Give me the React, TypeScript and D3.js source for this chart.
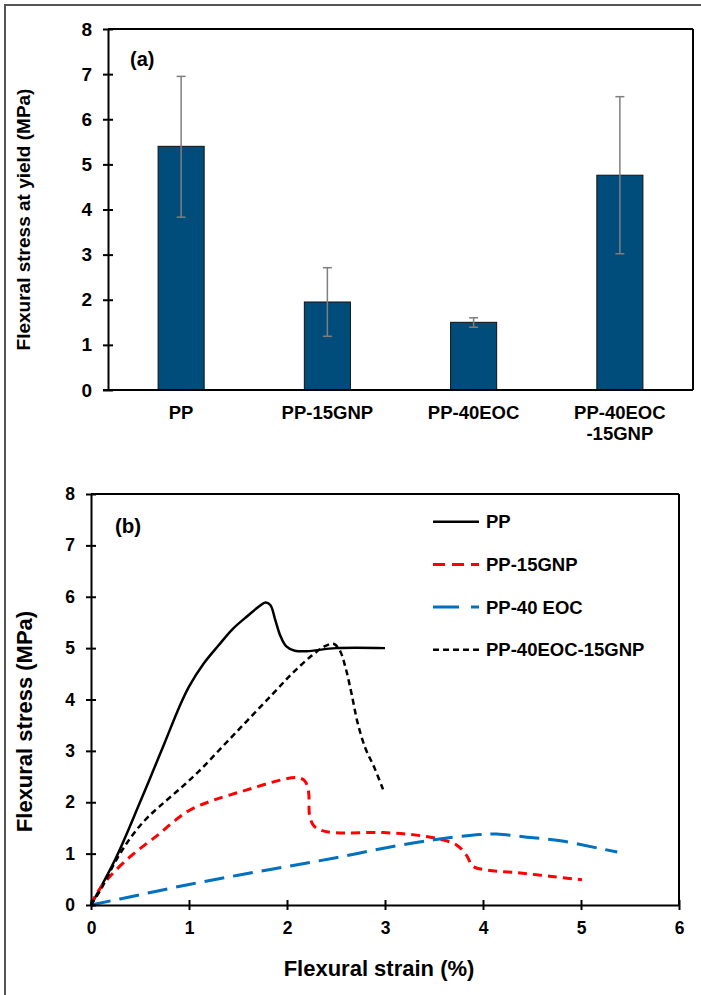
import React, { useEffect, useRef } from 'react';
import * as d3 from 'd3';

// ---- panel (a) data ----
const categories = ['PP', 'PP-15GNP', 'PP-40EOC', 'PP-40EOC-15GNP'];
const categoryLines = [['PP'], ['PP-15GNP'], ['PP-40EOC'], ['PP-40EOC', '-15GNP']];
const yieldStress = [5.4, 1.95, 1.5, 4.76];
const errLow = [3.83, 1.19, 1.39, 3.02];
const errHigh = [6.95, 2.71, 1.6, 6.5];
const yTicksA = [0, 1, 2, 3, 4, 5, 6, 7, 8];

// ---- panel (b) data: [strain %, stress MPa] ----
const ppCurve: [number, number][] = [
  [0, 0], [0.25, 0.9], [0.5, 2.0], [0.75, 3.15], [0.9, 3.85], [1.0, 4.25], [1.15, 4.7], [1.3, 5.05],
  [1.45, 5.38], [1.6, 5.63], [1.72, 5.82], [1.78, 5.89], [1.83, 5.84], [1.88, 5.55], [1.93, 5.25],
  [1.99, 5.04], [2.08, 4.95], [2.2, 4.94], [2.5, 5.0], [3.0, 5.0],
];
const gnpCurve: [number, number][] = [
  [0, 0], [0.06, 0.23], [0.19, 0.55], [0.4, 0.94], [0.57, 1.2], [0.7, 1.39], [0.84, 1.62],
  [1.01, 1.85], [1.25, 2.04], [1.59, 2.24], [1.93, 2.43], [2.1, 2.48], [2.18, 2.42], [2.22, 2.2],
  [2.23, 1.75], [2.27, 1.55], [2.34, 1.46], [2.47, 1.41], [2.98, 1.41], [3.32, 1.36], [3.56, 1.28],
  [3.73, 1.17], [3.83, 0.97], [3.9, 0.75], [4.04, 0.68], [4.34, 0.63], [4.68, 0.56], [5.01, 0.49],
];
const eocCurve: [number, number][] = [
  [0, 0], [0.5, 0.2], [1.0, 0.4], [1.5, 0.58], [2.0, 0.75], [2.5, 0.92], [3.0, 1.11], [3.5, 1.27],
  [3.97, 1.37], [4.14, 1.38], [4.45, 1.32], [4.79, 1.25], [5.19, 1.1], [5.37, 1.03],
];
const hybridCurve: [number, number][] = [
  [0, 0], [0.1, 0.3], [0.25, 0.85], [0.4, 1.3], [0.55, 1.65], [0.7, 1.92], [0.9, 2.25], [1.1, 2.6],
  [1.35, 3.1], [1.6, 3.6], [1.85, 4.1], [2.05, 4.5], [2.25, 4.85], [2.4, 5.05], [2.48, 5.08],
  [2.54, 4.95], [2.6, 4.6], [2.66, 4.1], [2.72, 3.55], [2.8, 3.05], [2.89, 2.68], [2.98, 2.25],
];
const seriesNames = ['PP', 'PP-15GNP', 'PP-40 EOC', 'PP-40EOC-15GNP'];
const xTicksB = [0, 1, 2, 3, 4, 5, 6];
const yTicksB = [0, 1, 2, 3, 4, 5, 6, 7, 8];

const FONT = '"Liberation Sans", Arial, sans-serif';

const seriesStyle = [
  { color: '#000000', dash: '', width: 2.5 },
  { color: '#FF0000', dash: '9,6', width: 3 },
  { color: '#0070C0', dash: '20,9', width: 3 },
  { color: '#000000', dash: '6,4', width: 2.5 },
];

function Axis({ axis, transform, tickFont, labelOffset, crossing }: any) {
  const ref = useRef<SVGGElement>(null);
  useEffect(() => {
    const g = d3.select(ref.current);
    g.call(axis);
    g.select('.domain').attr('stroke', '#000').attr('stroke-width', 2);
    g.selectAll('.tick line').attr('stroke', '#000').attr('stroke-width', 2);
    if (crossing === 'x') g.selectAll('.tick line').attr('x1', 5).attr('x2', -5);
    if (crossing === 'y') g.selectAll('.tick line').attr('y1', -5).attr('y2', 5);
    g.selectAll('.tick text')
      .attr('font-family', FONT)
      .attr('font-weight', 'bold')
      .attr('font-size', tickFont)
      .attr('fill', '#000');
    if (crossing === 'x') g.selectAll('.tick text').attr('x', -labelOffset);
    if (crossing === 'y') g.selectAll('.tick text').attr('y', labelOffset);
  }, []);
  return <g ref={ref} transform={transform} />;
}

export default function App() {
  // panel (a)
  const a = { left: 108, right: 693, top: 29, bottom: 390 };
  const xA = d3.scaleBand<string>().domain(categories).range([a.left, a.right])
    .paddingInner(0.685).paddingOuter(0.3425);
  const yA = d3.scaleLinear().domain([0, 8]).range([a.bottom, a.top]);

  // panel (b)
  const b = { left: 91, right: 679, top: 494, bottom: 905 };
  const xB = d3.scaleLinear().domain([0, 6]).range([b.left, b.right]);
  const yB = d3.scaleLinear().domain([0, 8]).range([b.bottom, b.top]);
  const line = d3.line<[number, number]>()
    .x(d => xB(d[0])).y(d => yB(d[1]))
    .curve(d3.curveCatmullRom.alpha(0.5));
  const curves = [ppCurve, gnpCurve, eocCurve, hybridCurve];
  const fmt = d3.format('d');

  return (
    <div style={{ position: 'absolute', left: 0, top: 0 }}>
      <svg width={701} height={995} style={{ display: 'block', background: '#fff' }}>
        <rect x={5} y={5} width={900} height={1200} fill="none" stroke="#555" strokeWidth={2} />

        {/* ---------- (a) ---------- */}
        <line x1={a.left} y1={a.top} x2={a.right} y2={a.top} stroke="#000" strokeWidth={2} />
        <line x1={a.right} y1={a.top} x2={a.right} y2={a.bottom} stroke="#000" strokeWidth={2} />
        {categories.map((c, i) => (
          <rect key={c} x={xA(c)} y={yA(yieldStress[i])} width={xA.bandwidth()}
            height={yA(0) - yA(yieldStress[i])} fill="#004C7A" stroke="#111" strokeWidth={1} />
        ))}
        {categories.map((c, i) => {
          const cx = (xA(c) as number) + xA.bandwidth() / 2;
          return (
            <g key={'e' + c} stroke="#7F7F7F" strokeWidth={1.5}>
              <line x1={cx} x2={cx} y1={yA(errLow[i])} y2={yA(errHigh[i])} />
              <line x1={cx - 4.5} x2={cx + 4.5} y1={yA(errLow[i])} y2={yA(errLow[i])} />
              <line x1={cx - 4.5} x2={cx + 4.5} y1={yA(errHigh[i])} y2={yA(errHigh[i])} />
            </g>
          );
        })}
        <line x1={a.left - 5} y1={a.bottom} x2={a.right} y2={a.bottom} stroke="#000" strokeWidth={2} />
        <Axis axis={d3.axisLeft(yA).tickValues(yTicksA).tickFormat(fmt).tickSizeOuter(0)}
          transform={`translate(${a.left},0)`} tickFont={19} labelOffset={16} crossing="x" />
        {categories.map((c, i) => {
          const cx = (xA(c) as number) + xA.bandwidth() / 2;
          return (
            <text key={'l' + c} x={cx} y={418.5} textAnchor="middle" fontFamily={FONT}
              fontWeight="bold" fontSize={18.5}>
              {categoryLines[i].map((t, j) => (
                <tspan key={j} x={cx} y={418.5 + j * 21}>{t}</tspan>
              ))}
            </text>
          );
        })}
        <text transform={`translate(30,${(a.top + a.bottom) / 2 + 10}) rotate(-90)`} textAnchor="middle"
          fontFamily={FONT} fontWeight="bold" fontSize={19}>Flexural stress at yield (MPa)</text>
        <text x={130} y={66} fontFamily={FONT} fontWeight="bold" fontSize={20}>(a)</text>

        {/* ---------- (b) ---------- */}
        <line x1={b.left} y1={b.top} x2={b.right} y2={b.top} stroke="#000" strokeWidth={2} />
        <line x1={b.right} y1={b.top} x2={b.right} y2={b.bottom} stroke="#000" strokeWidth={2} />
        {curves.map((c, i) => (
          <path key={'c' + i} d={line(c) as string} fill="none" stroke={seriesStyle[i].color}
            strokeWidth={seriesStyle[i].width} strokeDasharray={seriesStyle[i].dash} />
        ))}
        <Axis axis={d3.axisBottom(xB).tickValues(xTicksB).tickFormat(fmt).tickSizeOuter(0)}
          transform={`translate(0,${b.bottom})`} tickFont={17.5} labelOffset={17} crossing="y" />
        <Axis axis={d3.axisLeft(yB).tickValues(yTicksB).tickFormat(fmt).tickSizeOuter(0)}
          transform={`translate(${b.left},0)`} tickFont={17.5} labelOffset={16} crossing="x" />
        <text x={(b.left + b.right) / 2 - 6} y={976} textAnchor="middle" fontFamily={FONT}
          fontWeight="bold" fontSize={22}>Flexural strain (%)</text>
        <text transform={`translate(32,${(b.top + b.bottom) / 2 + 22}) rotate(-90)`} textAnchor="middle"
          fontFamily={FONT} fontWeight="bold" fontSize={22}>Flexural stress (MPa)</text>
        <text x={115} y={533} fontFamily={FONT} fontWeight="bold" fontSize={20.5}>(b)</text>

        {seriesNames.map((n, i) => {
          const ly = 521.7 + i * 42.7;
          return (
            <g key={'lg' + n}>
              <line x1={433} x2={479} y1={ly} y2={ly} stroke={seriesStyle[i].color}
                strokeWidth={seriesStyle[i].width} strokeDasharray={i === 1 ? '12,7' : i === 2 ? '26,12' : seriesStyle[i].dash} />
              <text x={486} y={ly + 6.5} fontFamily={FONT} fontWeight="bold" fontSize={18.5}>{n}</text>
            </g>
          );
        })}
      </svg>
    </div>
  );
}
